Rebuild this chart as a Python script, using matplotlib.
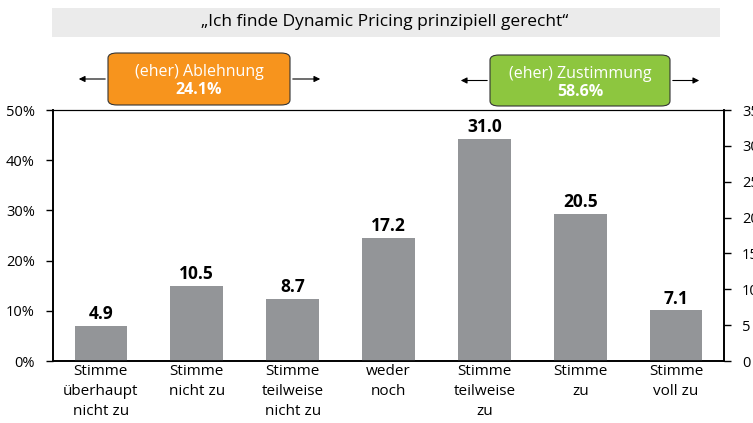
import numpy
import matplotlib
matplotlib.use("Agg")
import matplotlib.pyplot as plt
from matplotlib.patches import FancyBboxPatch, Rectangle

plt.rcParams["font.family"] = ["Open Sans", "DejaVu Sans"]

categories = [
  "Stimme\nüberhaupt\nnicht zu",
  "Stimme\nnicht zu",
  "Stimme\nteilweise\nnicht zu",
  "weder\nnoch",
  "Stimme\nteilweise\nzu",
  "Stimme\nzu",
  "Stimme\nvoll zu",
]
values = [4.9, 10.5, 8.7, 17.2, 31.0, 20.5, 7.1]
left_ticks = [0, 10, 20, 30, 40, 50]
right_ticks = [0, 5, 10, 15, 20, 25, 30, 35]
title = "„Ich finde Dynamic Pricing prinzipiell gerecht“"
reject_label = "(eher) Ablehnung"
reject_value = "24.1%"
agree_label = "(eher) Zustimmung"
agree_value = "58.6%"

W, H = 753, 423
fig = plt.figure(figsize=(W / 100, H / 100), dpi=100)

def fx(px):
  return px / W

def fy(py):
  return 1 - py / H

ax = fig.add_axes([fx(53), fy(361), fx(724) - fx(53), fy(110) - fy(361)])
ax2 = ax.twinx()

x = numpy.arange(len(values))
ax2.bar(x, values, width=0.55, color="#939598", zorder=2)
for xi, v in zip(x, values):
  ax2.text(xi, v + 0.35, "%.1f" % v, ha="center", va="bottom",
           fontsize=12.5, fontweight="bold", color="black")

ax.set_xlim(-0.5, len(values) - 0.5)
ax.set_ylim(0, 50)
ax.set_yticks(left_ticks)
ax.set_yticklabels(["%d%%" % t for t in left_ticks], fontsize=10.5)
ax2.set_ylim(0, 35)
ax2.set_yticks(right_ticks)
ax2.set_yticklabels([str(t) for t in right_ticks], fontsize=10.5)
ax.set_xticks(x)
ax.set_xticklabels(categories, fontsize=11, linespacing=1.45)
ax.tick_params(axis="x", length=0, pad=2)
ax.tick_params(axis="y", length=5, width=1, direction="out", pad=8)
ax2.tick_params(axis="y", length=5, width=1, direction="out", pad=8)
for a in (ax, ax2):
  for s in a.spines.values():
    s.set_linewidth(1.2)
  a.spines["top"].set_linewidth(0.8)

# title banner
fig.patches.append(Rectangle((fx(52), fy(37)), fx(720) - fx(52), fy(8) - fy(37),
                             transform=fig.transFigure, facecolor="#EBEBEB",
                             edgecolor="none"))
fig.text(fx(385), fy(22), title, ha="center", va="center", fontsize=12.5)

def summary_box(x0, x1, y0, y1, ax0, ax1, color, label, value):
  ym = (y0 + y1) / 2
  for xs, xe in ((x0, ax0), (x1, ax1)):
    fig.add_artist(matplotlib.patches.FancyArrowPatch(
      (fx(xs), fy(ym)), (fx(xe), fy(ym)), transform=fig.transFigure,
      arrowstyle="-|>", mutation_scale=9, color="black", linewidth=0.8))
  fig.patches.append(FancyBboxPatch((fx(x0), fy(y1)), fx(x1) - fx(x0), fy(y0) - fy(y1),
                                    boxstyle="round,pad=0,rounding_size=0.012",
                                    transform=fig.transFigure, facecolor=color,
                                    edgecolor="#333333", linewidth=0.8))
  xm = (x0 + x1) / 2
  fig.text(fx(xm), fy(ym - 7), label, ha="center", va="center",
           fontsize=11.5, color="white")
  fig.text(fx(xm), fy(ym + 11), value, ha="center", va="center",
           fontsize=11.5, color="white", fontweight="bold")

summary_box(108, 290, 53, 105, 76, 323, "#F7941D", reject_label, reject_value)
summary_box(490, 670, 55, 106, 458, 702, "#8DC63F", agree_label, agree_value)

fig.savefig("out.png", dpi=100)
